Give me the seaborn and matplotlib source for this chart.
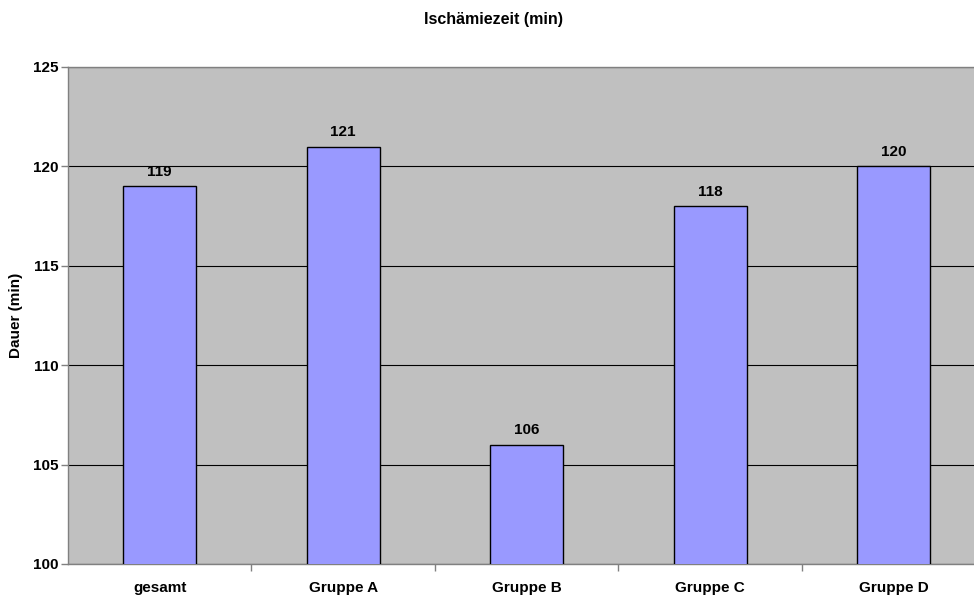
import matplotlib
matplotlib.use("Agg")
import matplotlib.pyplot as plt
import seaborn as sns
import pandas as pd

categories = ["gesamt", "Gruppe A", "Gruppe B", "Gruppe C", "Gruppe D"]
values = [119, 121, 106, 118, 120]
yticks = [100, 105, 110, 115, 120, 125]

sns.set_theme(style="white")
plt.rcParams['font.family'] = ['Liberation Sans', 'DejaVu Sans']
plt.rcParams['font.weight'] = 'bold'
plt.rcParams['text.color'] = 'black'
plt.rcParams['xtick.color'] = 'black'
plt.rcParams['ytick.color'] = 'black'
plt.rcParams['axes.labelcolor'] = 'black'

df = pd.DataFrame({"Kategorie": categories, "Dauer": values})

fig = plt.figure(figsize=(9.74, 5.97), dpi=100)
ax = fig.add_axes([0.0698, 0.0553, 0.942, 0.8325])
ax.set_facecolor("#C0C0C0")

sns.barplot(data=df, x="Kategorie", y="Dauer", color="#9999FF", width=0.40,
            edgecolor="black", linewidth=1, saturation=1, ax=ax, zorder=3)

ax.set_ylim(100, 125)
ax.set_xlim(-0.5, len(categories) - 0.5)
ax.set_yticks(yticks)
ax.set_yticklabels([str(t) for t in yticks], fontsize=11, fontweight='bold')
ax.yaxis.grid(True, color="#000000", linewidth=0.8, zorder=1)
ax.set_axisbelow(True)

ax.set_xticks([i for i in range(len(categories))])
ax.set_xticklabels(categories, fontsize=11, fontweight='bold')
ax.tick_params(axis='x', length=0, pad=12)
ax.set_xticks([i + 0.5 for i in range(len(categories) - 1)], minor=True)
ax.tick_params(axis='x', which='minor', length=5, color="#808080", width=1, bottom=True)
ax.tick_params(axis='y', length=5, color="#808080", width=1, left=True, pad=2)

for s in ["left", "bottom", "top"]:
    ax.spines[s].set_color("#808080")
    ax.spines[s].set_linewidth(1)
ax.spines["right"].set_visible(False)

for i, v in enumerate(values):
    ax.annotate(str(v), (i, v), xytext=(0, 7.5), textcoords="offset points",
                ha="center", va="baseline", fontsize=11, fontweight='bold', zorder=4)

ax.set_xlabel("")
ax.set_ylabel("Dauer (min)", fontsize=11, fontweight='bold', labelpad=7)
fig.text(0.507, 0.968, "Ischämiezeit (min)", ha="center", va="center",
         fontsize=11.5, fontweight='bold')

fig.savefig("out.png", dpi=100)
